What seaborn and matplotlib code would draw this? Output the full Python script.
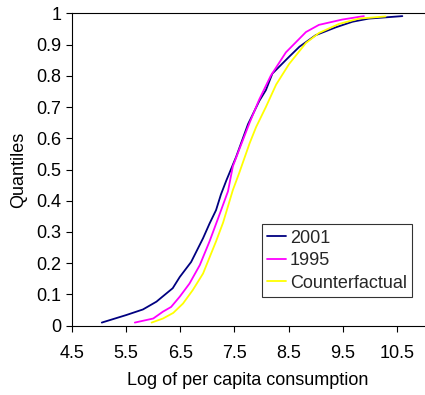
import matplotlib
matplotlib.use("Agg")
import matplotlib.pyplot as plt
import seaborn as sns
import pandas as pd

# 2001 distribution (log consumption, quantile)
x_2001 = [5.05, 5.5, 5.81, 6.06, 6.15, 6.36, 6.49, 6.70, 6.92, 7.04, 7.16, 7.25,
          7.35, 7.41, 7.53, 7.75, 7.96, 8.08, 8.20, 8.51, 8.70, 9.00, 9.37, 9.68, 9.98, 10.6]
q_2001 = [0.01, 0.034, 0.052, 0.077, 0.09, 0.12, 0.156, 0.204, 0.28, 0.327, 0.37, 0.42,
          0.465, 0.49, 0.54, 0.645, 0.72, 0.754, 0.807, 0.861, 0.893, 0.93, 0.955, 0.973, 0.983, 0.991]

x_1995 = [5.66, 6.0, 6.18, 6.33, 6.49, 6.67, 6.86, 7.04, 7.19, 7.38, 7.47, 7.59,
          7.78, 7.96, 8.17, 8.45, 8.82, 9.06, 9.49, 9.89]
q_1995 = [0.01, 0.023, 0.045, 0.06, 0.093, 0.135, 0.194, 0.27, 0.34, 0.43, 0.51, 0.565,
          0.65, 0.725, 0.80, 0.875, 0.94, 0.963, 0.98, 0.991]

x_cf = [5.97, 6.18, 6.37, 6.55, 6.73, 6.92, 7.16, 7.29, 7.47, 7.59, 7.78, 7.90,
        8.08, 8.27, 8.51, 8.82, 9.06, 9.43, 9.80, 10.29]
q_cf = [0.01, 0.023, 0.041, 0.071, 0.114, 0.167, 0.27, 0.33, 0.434, 0.49, 0.584, 0.636,
        0.70, 0.772, 0.838, 0.905, 0.937, 0.966, 0.983, 0.99]

series_names = ["2001", "1995", "Counterfactual"]
x_ticks = [4.5, 5.5, 6.5, 7.5, 8.5, 9.5, 10.5]
y_ticks = [0, 0.1, 0.2, 0.3, 0.4, 0.5, 0.6, 0.7, 0.8, 0.9, 1]

df = pd.concat([
    pd.DataFrame({"x": x_2001, "q": q_2001, "series": series_names[0]}),
    pd.DataFrame({"x": x_1995, "q": q_1995, "series": series_names[1]}),
    pd.DataFrame({"x": x_cf, "q": q_cf, "series": series_names[2]}),
], ignore_index=True)

sns.set_style("white")
plt.rcParams["font.family"] = ["Liberation Sans", "DejaVu Sans"]

fig = plt.figure(figsize=(4.25, 3.95), dpi=100)
ax = fig.add_axes([72 / 425, 69.3 / 395, 352 / 425, 312.4 / 395])

palette = {"2001": "#000080", "1995": "#FF00FF", "Counterfactual": "#FFFF00"}
sns.lineplot(data=df, x="x", y="q", hue="series", palette=palette, estimator=None,
             sort=False, linewidth=1.3, ax=ax, legend=True)

ax.set_xlim(4.5, 11.0)
ax.set_ylim(0, 1)
ax.set_xticks(x_ticks)
ax.set_xticklabels([f"{v:g}" for v in x_ticks])
ax.set_yticks(y_ticks)
ax.set_yticklabels([f"{v:g}" for v in y_ticks])
ax.tick_params(axis="both", direction="out", length=4, width=0.8, color="black",
               labelsize=13, labelcolor="black", bottom=True, left=True)
ax.tick_params(axis="x", pad=10)
ax.set_xlabel("Log of per capita consumption", fontsize=13, labelpad=7, color="black")
ax.set_ylabel("Quantiles", fontsize=13, labelpad=7, color="black")
for s in ax.spines.values():
    s.set_color("black")
    s.set_linewidth(0.8)
ax.spines["right"].set_visible(False)

handles, labels = ax.get_legend_handles_labels()
leg = ax.legend(handles, labels, loc="lower left", bbox_to_anchor=(0.54, 0.092),
                borderaxespad=0, frameon=True, fancybox=False, fontsize=13,
                handlelength=1.0, handletextpad=0.25, labelspacing=0.3,
                borderpad=0.3, edgecolor="black")
leg.get_frame().set_linewidth(0.8)
for line in leg.get_lines():
    line.set_linewidth(1.3)

fig.savefig("out.png", dpi=100)
